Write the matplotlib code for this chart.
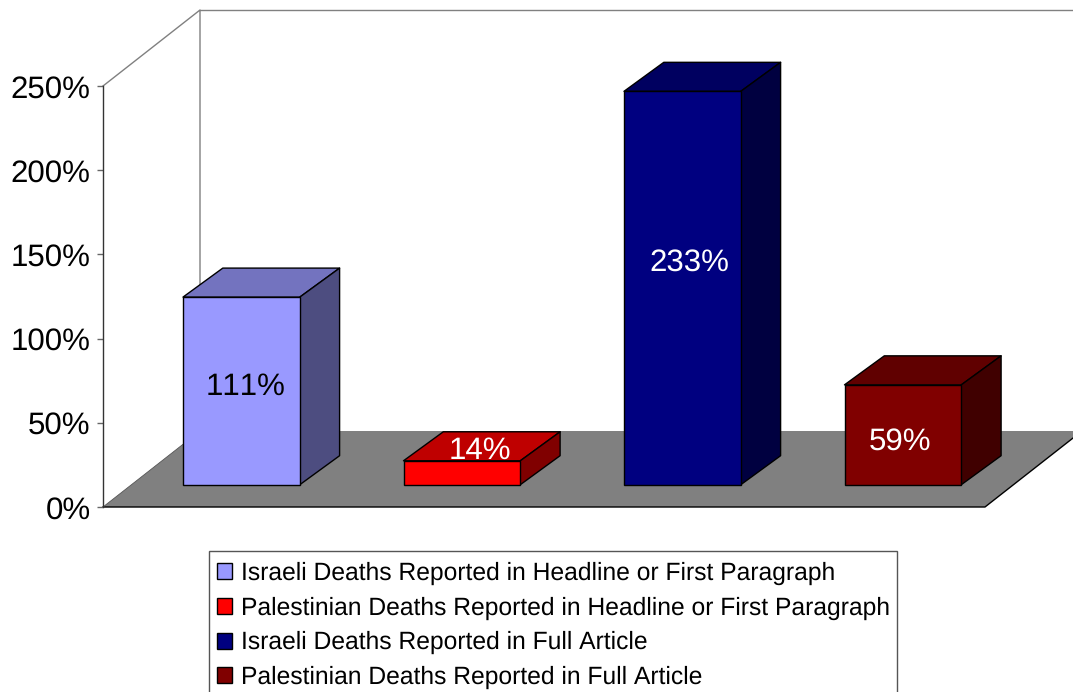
import matplotlib
matplotlib.use("Agg")
import matplotlib.pyplot as plt
from matplotlib.patches import Polygon, Patch, Rectangle

plt.rcParams['font.family'] = ['Liberation Sans', 'DejaVu Sans']
plt.rcParams['text.hinting'] = 'none'
plt.rcParams['text.kerning_factor'] = 6

categories = ["Israeli Deaths Reported in Headline or First Paragraph",
              "Palestinian Deaths Reported in Headline or First Paragraph",
              "Israeli Deaths Reported in Full Article",
              "Palestinian Deaths Reported in Full Article"]
values = [111.4, 14.2, 233.6, 59.3]
tick_values = [0, 50, 100, 150, 200, 250]
front_colors = ["#9999FF", "#FF0000", "#000080", "#800000"]
top_colors = ["#7373BF", "#BF0000", "#000060", "#600000"]
side_colors = ["#4D4D80", "#800000", "#000040", "#400000"]
label_colors = ["black", "white", "white", "white"]
label_offsets = [(4, 4), (17.5, 22), (7, 25), (-3, -7)]  # px from bar-face centre

W, H = 1073, 692
fig = plt.figure(figsize=(W / 100, H / 100), dpi=100)
L, R, T, B = 103, 985, 86, 507
ax = fig.add_axes([L / W, 1 - B / H, (R - L) / W, (B - T) / H])
ax.set_xlim(-0.5, 3.5)
ax.set_ylim(0, 250)
ux = (R - L) / 4       # px per category
uy = (B - T) / 250     # px per percent
DX, DY = 97 / ux, 76 / uy  # full chart depth in data units


def P(x, y, d):
    return (x + d * DX, y + d * DY)


def poly(pts, fc, ec, lw=1.0, z=2):
    ax.add_patch(Polygon(pts, closed=True, facecolor=fc, edgecolor=ec, linewidth=lw,
                         joinstyle='round', zorder=z, clip_on=False))


for s in ("top", "right", "bottom"):
    ax.spines[s].set_visible(False)
ax.spines["left"].set_color("#333333")
ax.spines["left"].set_linewidth(1.0)
ax.set_xticks([])
ax.set_yticks(tick_values)
ax.set_yticklabels([f"{v}%" for v in tick_values], fontsize=22.5)
ax.tick_params(axis='y', length=4.5, width=1.0, color="#666666", pad=4.3)
ax.patch.set_alpha(0)

# Walls
wall = "#808080"
ax.plot(*zip(P(-0.5, 250, 0), P(-0.5, 250, 1), P(-0.5, 0, 1)), color=wall, lw=1.0, clip_on=False, zorder=1)
ax.plot(*zip(P(-0.5, 250, 1), P(3.5, 250, 1)), color=wall, lw=1.0, clip_on=False, zorder=1)

# Floor
poly([P(-0.5, 0, 0), P(3.5, 0, 0), P(3.5, 0, 1), P(-0.5, 0, 1)], "#808080", "none", z=1)
ax.plot(*zip(P(-0.5, 0, 0), P(3.5, 0, 0), P(3.5, 0, 1)), color="black", lw=1.0, clip_on=False, zorder=1.5)
ax.plot(*zip(P(-0.5, 0, 0), P(-0.5, 0, 1)), color="#555555", lw=0.6, clip_on=False, zorder=1.5)

# Bars
width = 116.8 / ux
x_start = 80 / ux
by = 22.3 / uy
bar_dx, bar_dy = 39.8 / ux, 29 / uy
for i, v in enumerate(values):
    x0 = i - 0.5 + x_start
    x1 = x0 + width
    ax.bar(x0, v, width=width, bottom=by, align='edge', color=front_colors[i],
           edgecolor="black", linewidth=1.0, zorder=4, clip_on=False)
    poly([(x0, by + v), (x1, by + v), (x1 + bar_dx, by + v + bar_dy), (x0 + bar_dx, by + v + bar_dy)],
         top_colors[i], "black", z=3)
    poly([(x1, by), (x1, by + v), (x1 + bar_dx, by + v + bar_dy), (x1 + bar_dx, by + bar_dy)],
         side_colors[i], "black", z=3)
    ax.annotate(f"{int(v)}%", xy=(x0 + width / 2, by + v / 2),
                xytext=(label_offsets[i][0] * 0.72, label_offsets[i][1] * 0.72),
                textcoords='offset points', ha='center', va='center', fontsize=22.5,
                color=label_colors[i], zorder=6)

# Legend frame runs past the bottom edge of the picture, as in the reference
fig.add_artist(Rectangle((209 / W, 1 - 720 / H), (897 - 209) / W, (720 - 551) / H,
                         transform=fig.transFigure, facecolor="white", edgecolor="#555555",
                         linewidth=1.0, zorder=5))
handles = [Patch(facecolor=c, edgecolor="black", linewidth=1.0) for c in front_colors]
leg = fig.legend(handles, categories, loc='upper left',
                 bbox_to_anchor=(209 / W, 1 - 553.5 / H), bbox_transform=fig.transFigure,
                 fontsize=17.75, frameon=False, borderaxespad=0, borderpad=0.32,
                 labelspacing=0.47, handlelength=0.62, handleheight=0.62, handletextpad=0.34)
leg.set_zorder(6)

fig.savefig("out.png", dpi=100)
